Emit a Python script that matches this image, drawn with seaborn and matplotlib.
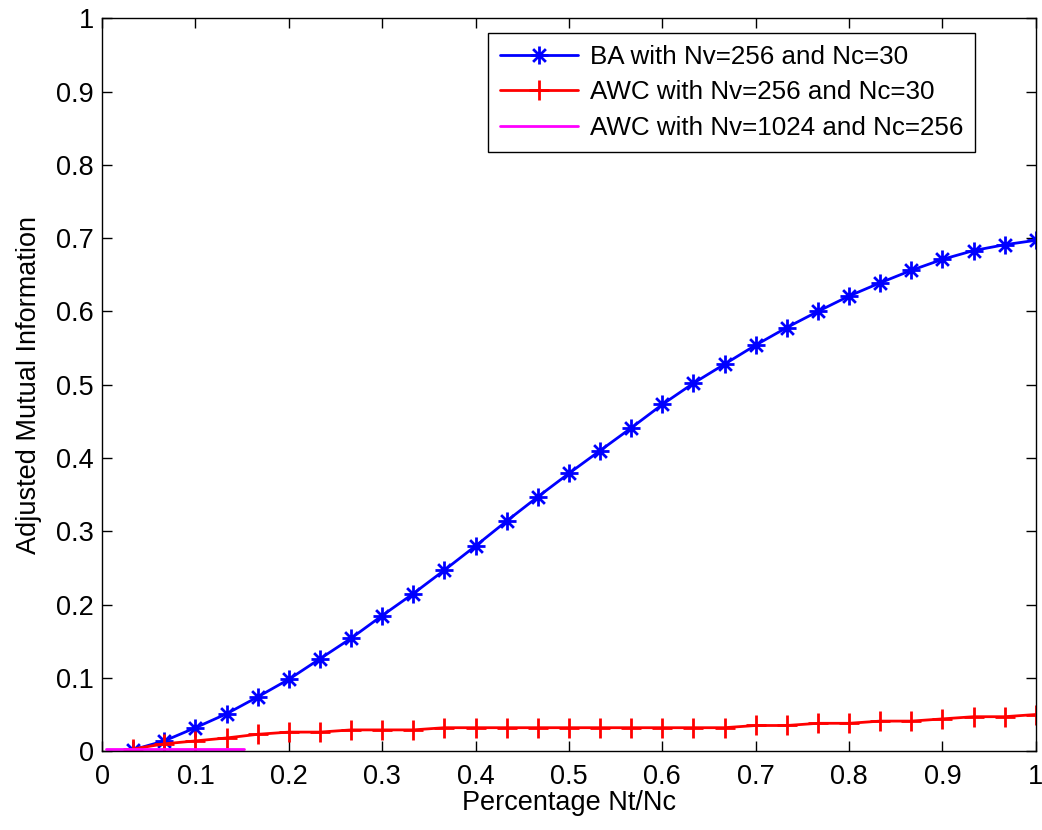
import numpy as np
import seaborn as sns
import matplotlib.pyplot as plt
from matplotlib.path import Path

# Series values
k30 = np.arange(1, 31)
ba_x = k30 / 30
ba_ami = [0.002, 0.014, 0.032, 0.051, 0.074, 0.098, 0.126, 0.154, 0.185, 0.215,
          0.247, 0.280, 0.314, 0.347, 0.379, 0.410, 0.441, 0.473, 0.502, 0.528,
          0.554, 0.578, 0.600, 0.621, 0.639, 0.656, 0.671, 0.683, 0.691, 0.697]

awc_x = k30 / 30
awc_ami = [0.003, 0.010, 0.014, 0.018, 0.023, 0.026, 0.026, 0.029, 0.029, 0.029,
           0.032, 0.032, 0.032, 0.032, 0.032, 0.032, 0.032, 0.032, 0.032, 0.032,
           0.035, 0.035, 0.038, 0.038, 0.041, 0.041, 0.044, 0.047, 0.047, 0.050]

awc_big_x = np.arange(1, 40) / 256
awc_big_ami = [0.003] * 39

labels = ['BA with Nv=256 and Nc=30',
          'AWC with Nv=256 and Nc=30',
          'AWC with Nv=1024 and Nc=256']

sns.set_style('ticks')
plt.rcParams['font.family'] = ['Liberation Sans', 'DejaVu Sans']
for key in ['text.color', 'axes.labelcolor', 'xtick.color', 'ytick.color', 'axes.edgecolor']:
    plt.rcParams[key] = 'black'

# MATLAB style asterisk: + and x overlaid
d = 0.3536
asterisk = Path([(0, -0.5), (0, 0.5), (-0.5, 0), (0.5, 0),
                 (-d, -d), (d, d), (-d, d), (d, -d)],
                [Path.MOVETO, Path.LINETO] * 4)

fig = plt.figure(figsize=(10.42, 8.3), dpi=100)
ax = fig.add_axes([0.098, 0.095, 0.896, 0.883])

sns.lineplot(x=ba_x, y=ba_ami, color='#0000ff', marker=asterisk, markersize=13,
             markeredgewidth=2, markeredgecolor='#0000ff', markerfacecolor='none',
             linewidth=2, label=labels[0], ax=ax)
sns.lineplot(x=awc_x, y=awc_ami, color='#ff0000', marker='+', markersize=15,
             markeredgewidth=2, markeredgecolor='#ff0000', linewidth=2,
             label=labels[1], ax=ax)
sns.lineplot(x=awc_big_x, y=awc_big_ami, color='#ff00ff', linewidth=2,
             label=labels[2], ax=ax)

ax.set_xlim(0, 1)
ax.set_ylim(0, 1)
ticks = np.arange(0, 1.01, 0.1)
tick_labels = ['0', '0.1', '0.2', '0.3', '0.4', '0.5', '0.6', '0.7', '0.8', '0.9', '1']
ax.set_xticks(ticks)
ax.set_yticks(ticks)
ax.set_xticklabels(tick_labels)
ax.set_yticklabels(tick_labels)
ax.tick_params(direction='in', length=7, width=1, labelsize=19.5,
               top=True, right=True)
ax.tick_params(axis='x', pad=9)
ax.tick_params(axis='y', pad=6)
for s in ax.spines.values():
    s.set_visible(True)
    s.set_linewidth(1)
    s.set_color('black')

ax.set_xlabel('Percentage Nt/Nc', fontsize=19.5, labelpad=0)
ax.set_ylabel('Adjusted Mutual Information', fontsize=19.5, labelpad=10)

leg = ax.legend(loc='upper right', bbox_to_anchor=(975 / 1042, 1 - 33 / 830),
                bbox_transform=fig.transFigure, borderaxespad=0,
                fontsize=18.75, frameon=True, fancybox=False,
                edgecolor='black', handlelength=3, handletextpad=0.45,
                borderpad=0.45, labelspacing=0.45, framealpha=1)
leg.get_frame().set_linewidth(1)

fig.savefig('out.png', dpi=100)
